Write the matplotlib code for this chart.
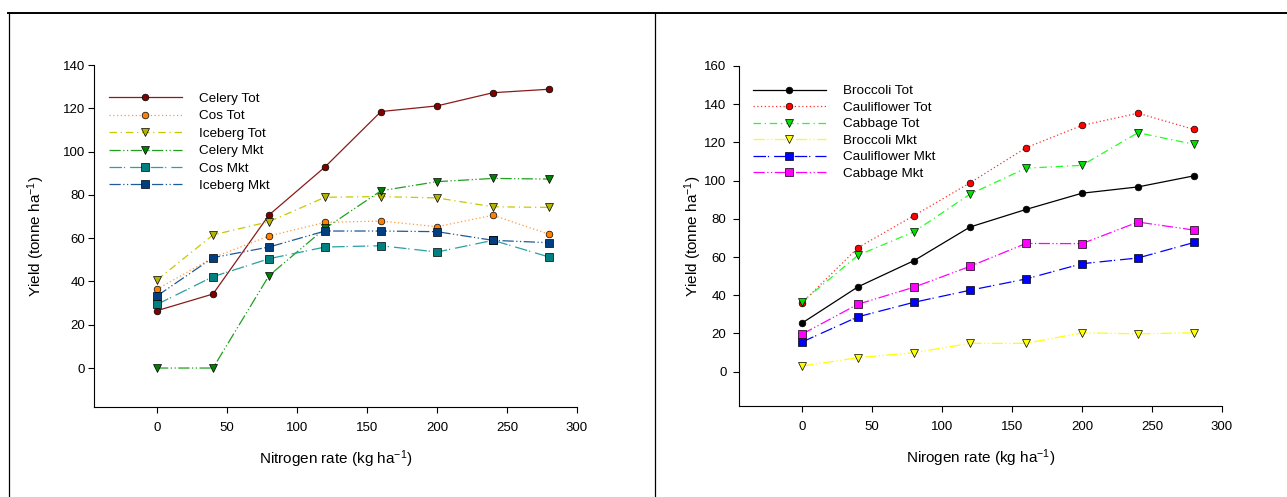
import matplotlib
matplotlib.use("Agg")
import matplotlib.pyplot as plt
from matplotlib.lines import Line2D

plt.rcParams['font.family'] = ['Liberation Sans', 'DejaVu Sans']
plt.rcParams['mathtext.fontset'] = 'custom'
plt.rcParams['mathtext.rm'] = 'Liberation Sans'
plt.rcParams['mathtext.it'] = 'Liberation Sans:italic'
plt.rcParams['mathtext.default'] = 'regular'

# Nitrogen application rates (kg/ha)
n_rate = [0, 40, 80, 120, 160, 200, 240, 280]

# Lettuce / celery trial yields (tonne/ha)
celery_tot = [26.5, 34.2, 70.7, 92.9, 118.5, 121.1, 127.2, 128.8]
cos_tot = [36.4, 51.0, 61.0, 67.3, 67.9, 65.3, 70.6, 61.8]
iceberg_tot = [40.7, 61.5, 67.6, 78.9, 79.2, 78.6, 74.5, 74.2]
celery_mkt = [0.0, 0.0, 42.7, 64.5, 81.9, 86.1, 87.6, 87.3]
cos_mkt = [29.4, 42.2, 50.5, 55.9, 56.5, 53.6, 59.0, 51.3]
iceberg_mkt = [33.3, 51.0, 55.9, 63.3, 63.3, 63.0, 59.0, 57.9]

# Brassica trial yields (tonne/ha)
broccoli_tot = [25.4, 44.4, 58.1, 75.7, 84.9, 93.4, 96.7, 102.5]
cauli_tot = [36.0, 64.9, 81.7, 98.8, 117.2, 128.9, 135.3, 126.8]
cabbage_tot = [36.5, 60.9, 73.2, 92.9, 106.5, 108.0, 125.1, 119.0]
broccoli_mkt = [2.9, 7.3, 9.9, 14.8, 14.8, 20.3, 19.8, 20.3]
cauli_mkt = [15.5, 28.7, 36.3, 42.6, 48.5, 56.5, 59.5, 67.6]
cabbage_mkt = [19.6, 35.3, 44.2, 55.1, 67.1, 67.0, 78.3, 74.1]

left_labels = ["Celery Tot", "Cos Tot", "Iceberg Tot", "Celery Mkt", "Cos Mkt", "Iceberg Mkt"]
right_labels = ["Broccoli Tot", "Cauliflower Tot", "Cabbage Tot", "Broccoli Mkt",
                "Cauliflower Mkt", "Cabbage Mkt"]

# line dash patterns in series order
styles = ['-', (0, (1, 2)), (0, (6, 3, 1, 3)), (0, (9, 2, 1, 2, 1, 2)),
          (0, (10, 1.5, 1, 4)), (0, (9, 2, 1, 2, 1, 2))]
markers = ['o', 'o', 'v', 'v', 's', 's']
msizes = [4.8, 4.8, 6.2, 6.2, 5.6, 5.6]

left_series = [celery_tot, cos_tot, iceberg_tot, celery_mkt, cos_mkt, iceberg_mkt]
left_line_c = ['#8b1a1a', '#ff9a40', '#c8c800', '#1fa01f', '#2aa0a0', '#1f5a9a']
left_mark_c = ['#800000', '#ff8000', '#b4b400', '#008000', '#008080', '#004080']

right_series = [broccoli_tot, cauli_tot, cabbage_tot, broccoli_mkt, cauli_mkt, cabbage_mkt]
right_line_c = ['#000000', '#ff3030', '#20ff20', '#ffff00', '#0000ff', '#ff00ff']
right_mark_c = ['#000000', '#ff0000', '#00e000', '#ffff00', '#0000ff', '#ff00ff']

fig = plt.figure(figsize=(12.87, 4.97), dpi=100)
W, H = 1287, 497


def px_axes(x0, y0, x1, y1):
    return fig.add_axes([x0 / W, 1 - y1 / H, (x1 - x0) / W, (y1 - y0) / H])


def draw_panel(ax, series, line_c, mark_c, labels, ylim, yticks, xlabel, leg_anchor,
               ypad, ylab_x, leg_spacing):
    for vals, lc, mc, ls, mk, ms, lab in zip(series, line_c, mark_c, styles, markers,
                                             msizes, labels):
        ax.plot(n_rate, vals, color=lc, linestyle=ls, linewidth=0.9, marker=mk,
                markersize=ms, markerfacecolor=mc, markeredgecolor='black',
                markeredgewidth=0.5, label=lab)
    ax.set_xlim(-45, 300)
    ax.set_ylim(*ylim)
    ax.set_xticks([0, 50, 100, 150, 200, 250, 300])
    ax.set_yticks(yticks)
    for s in ('top', 'right'):
        ax.spines[s].set_visible(False)
    for s in ('left', 'bottom'):
        ax.spines[s].set_linewidth(0.8)
    ax.tick_params(direction='out', length=4, width=0.8, labelsize=9.5)
    ax.tick_params(axis='x', pad=6.5)
    ax.tick_params(axis='y', pad=ypad)
    ax.set_xlabel(xlabel, fontsize=11, labelpad=10.5)
    ax.set_ylabel('Yield (tonne ha$^{-1}$)', fontsize=11)
    ax.yaxis.set_label_coords(ylab_x, 0.5)
    ax.legend(loc='upper left', bbox_to_anchor=leg_anchor, frameon=False, fontsize=9.7,
              handlelength=5.4, handletextpad=1.3, labelspacing=leg_spacing,
              borderaxespad=0)


ax1 = px_axes(94, 65, 577, 407)
draw_panel(ax1, left_series, left_line_c, left_mark_c, left_labels, (-18, 140),
           [0, 20, 40, 60, 80, 100, 120, 140], 'Nitrogen rate (kg ha$^{-1}$)',
           (0.02, 0.935), 2.5, (47 - 94) / 483, 0.37)

ax2 = px_axes(739, 66, 1222, 406)
draw_panel(ax2, right_series, right_line_c, right_mark_c, right_labels, (-18, 160),
           [0, 20, 40, 60, 80, 100, 120, 140, 160], 'Nirogen rate (kg ha$^{-1}$)',
           (0.018, 0.96), 5.0, (704 - 739) / 483, 0.3)

# surrounding table rules
fig.add_artist(Line2D([8 / W, 1], [1 - 13 / H, 1 - 13 / H], color='black', linewidth=1.4,
                      transform=fig.transFigure))
fig.add_artist(Line2D([9 / W, 9 / W], [0, 1 - 13 / H], color='black', linewidth=0.9,
                      transform=fig.transFigure))
fig.add_artist(Line2D([654.5 / W, 654.5 / W], [0, 1 - 13 / H], color='black', linewidth=0.9,
                      transform=fig.transFigure))

fig.savefig('out.png', dpi=100)
